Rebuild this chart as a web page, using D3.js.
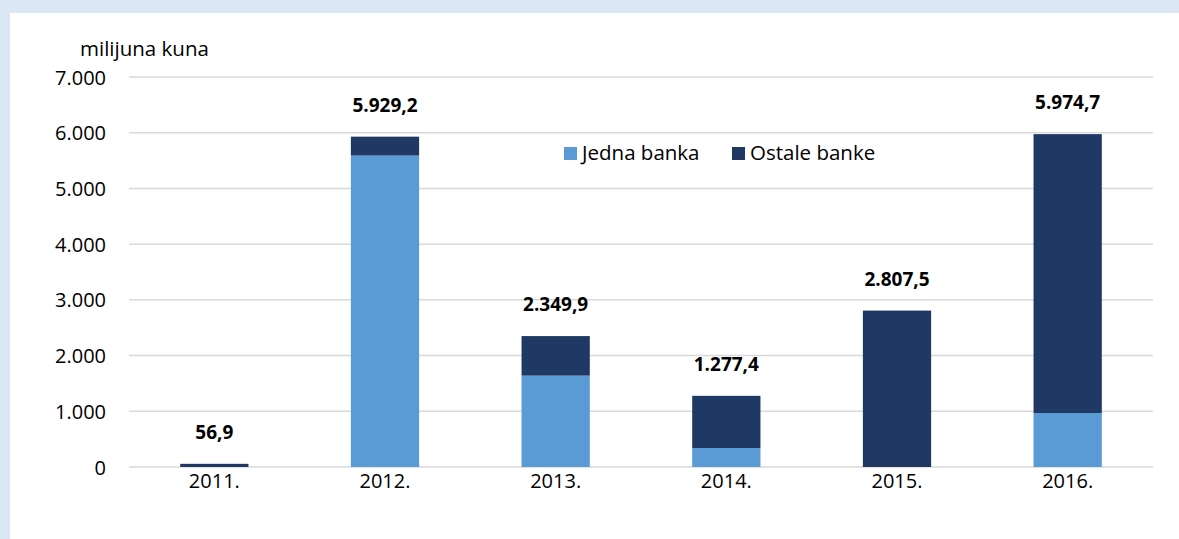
<!DOCTYPE html>
<html><head><meta charset="utf-8">
<script src="https://cdn.jsdelivr.net/npm/d3@7"></script>
<style>body{margin:0;background:#fff}svg{display:block}text{font-family:"Open Sans","Noto Sans",sans-serif}</style>
</head><body>
<svg id="c" width="1179" height="539"></svg>
<script>
const categories = ["2011.", "2012.", "2013.", "2014.", "2015.", "2016."];
const jednaBanka = [0, 5590, 1640, 341, 0, 969];
const ostaleBanke = [56.9, 339.2, 709.9, 936.4, 2807.5, 5005.7];
const totalLabels = ["56,9", "5.929,2", "2.349,9", "1.277,4", "2.807,5", "5.974,7"];
const yTicks = [0, 1000, 2000, 3000, 4000, 5000, 6000, 7000];
const seriesNames = ["Jedna banka", "Ostale banke"];
const colors = ["#5b9bd5", "#1f3864"];

const svg = d3.select("#c");
svg.append("rect").attr("width",1179).attr("height",539).attr("fill","#dbe7f4");
svg.append("rect").attr("x",10).attr("y",13).attr("width",1169).attr("height",526).attr("fill","#fff");

const x = d3.scaleBand().domain(categories).range([129,1153]).paddingInner(0.6).paddingOuter(0.3);
const y = d3.scaleLinear().domain([0,7000]).range([467,77]);
const fmt = v => v === 0 ? "0" : d3.format(",")(v).replace(/,/g, ".");

const g = svg.append("g");
g.selectAll("line.grid").data(yTicks).join("line")
  .attr("x1",129).attr("x2",1153).attr("y1",d=>y(d)).attr("y2",d=>y(d))
  .attr("stroke","#d9d9d9").attr("stroke-width",1.5);

const yAxis = d3.axisLeft(y).tickValues(yTicks).tickFormat(fmt).tickSize(0).tickPadding(0);
const ya = svg.append("g").attr("transform","translate(106,0)").call(yAxis);
ya.select(".domain").remove();
ya.selectAll("text").attr("font-size",20).attr("fill","#000").attr("dy","0.35em");

const xAxis = d3.axisBottom(x).tickSize(0).tickPadding(0);
const xa = svg.append("g").attr("transform","translate(0,467)").call(xAxis);
xa.select(".domain").remove();
xa.selectAll("text").attr("font-size",20).attr("fill","#000").attr("y",14).attr("dy","0.35em");

const data = categories.map((c,i)=>({c, j:jednaBanka[i], o:ostaleBanke[i], lab: totalLabels[i]}));
const stack = d3.stack().keys(["j","o"])(data);
svg.append("g").selectAll("g").data(stack).join("g").attr("fill",(d,i)=>colors[i])
  .selectAll("rect").data(d=>d).join("rect")
  .attr("x",d=>x(d.data.c)).attr("width",x.bandwidth())
  .attr("y",d=>y(d[1])).attr("height",d=>Math.max(0,y(d[0])-y(d[1])));

svg.append("g").selectAll("text").data(data).join("text")
  .attr("x",d=>x(d.c)+x.bandwidth()/2).attr("y",d=>y(d.j+d.o)-25)
  .attr("text-anchor","middle").attr("font-size",19).attr("font-weight","bold").attr("fill","#000")
  .text(d=>d.lab);

svg.append("text").attr("x",80).attr("y",56).attr("font-size",20.5).attr("fill","#000").text("milijuna kuna");

const leg = svg.append("g");
const legX = [564, 732];
seriesNames.forEach((n,i)=>{
  leg.append("rect").attr("x",legX[i]).attr("y",147).attr("width",13).attr("height",13).attr("fill",colors[i]);
  leg.append("text").attr("x",legX[i]+18).attr("y",160).attr("font-size",20.5).attr("fill","#000").text(n);
});
</script>
</body></html>
